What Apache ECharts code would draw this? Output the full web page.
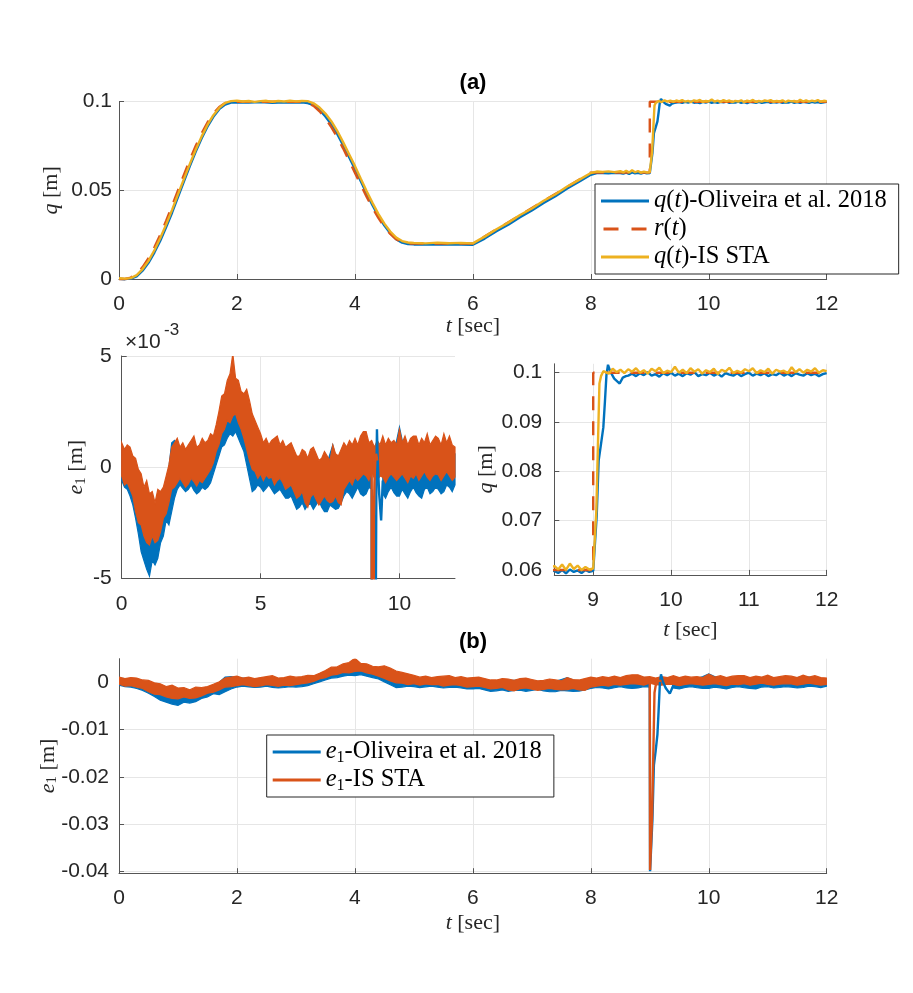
<!DOCTYPE html>
<html lang="en">
<head>
<meta charset="UTF-8">
<title>q(t) and e1 tracking</title>
<script src="https://cdn.jsdelivr.net/npm/echarts@6.0.0/dist/echarts.min.js"></script>
<style>
  html, body { margin: 0; padding: 0; background: #fff; }
  #container { width: 913px; height: 993px; }
</style>
</head>
<body>
<div id="container"></div>
<script type="text/javascript">
// reference r(t) [t, m]
var refR = [[0,0],[0.1,0],[0.2,0.0008],[0.3,0.003],[0.4,0.0067],[0.5,0.0117],[0.6,0.0179],[0.7,0.025],[0.8,0.0329],[0.9,0.0413],
  [1.0,0.05],[1.1,0.0587],[1.2,0.0671],[1.3,0.075],[1.4,0.0821],[1.5,0.0883],[1.6,0.0933],[1.7,0.097],[1.8,0.0992],[1.9,0.1],
  [3.1,0.1],[3.2,0.0994],[3.3,0.0976],[3.4,0.0946],[3.5,0.0906],[3.6,0.0857],[3.7,0.08],[3.8,0.0737],[3.9,0.0669],[4.0,0.06],
  [4.1,0.0531],[4.2,0.0463],[4.3,0.04],[4.4,0.0343],[4.5,0.0294],[4.6,0.0254],[4.7,0.0224],[4.8,0.0206],[4.9,0.02],
  [6.0,0.02],[8.0,0.06],[9.0,0.06],[9.0,0.1],[12,0.1]];

// q(t) Oliveira et al. 2018 [t, m]
var qOliHead = [[0,0.0001],[0.1,-0.0001],[0.2,0.0002],[0.3,0.0015],[0.4,0.0047],[0.5,0.0091],[0.6,0.0149],[0.7,0.0216],[0.8,0.0293],[0.9,0.0374],
  [1.0,0.0462],[1.1,0.0549],[1.2,0.0635],[1.3,0.0717],[1.4,0.0793],[1.5,0.0859],[1.6,0.0915],[1.7,0.0958],[1.8,0.0984],[1.9,0.0995],
  [2.0,0.0997],[2.2,0.0995],[2.4,0.0998],[2.6,0.0994],[2.8,0.0997],[3.0,0.0995],[3.1,0.0996],[3.2,0.0992],[3.3,0.0981],[3.4,0.0954],
  [3.5,0.0917],[3.6,0.0872],[3.7,0.0818],[3.8,0.0754],[3.9,0.0688],[4.0,0.0621],[4.1,0.0551],[4.2,0.0481],[4.3,0.0415],[4.4,0.0355],
  [4.5,0.0301],[4.6,0.0258],[4.7,0.0225],[4.8,0.0205],[4.9,0.0197],[5.0,0.0195],[5.2,0.0194],[5.4,0.0196],[5.6,0.0194],[5.8,0.0195],
  [6.0,0.0193],[6.2,0.0228],[6.4,0.0269],[6.6,0.0306],[6.8,0.0349],[7.0,0.0387],[7.2,0.0429],[7.4,0.0467],[7.6,0.0511],[7.8,0.0549],
  [8.0,0.0588],[8.1,0.0597],[8.2,0.0598],[8.3,0.0596],[8.4,0.0599],
  [8.5,0.0598],[8.55,0.0594],[8.6,0.06],[8.65,0.0593],[8.7,0.0601],[8.75,0.0596],[8.8,0.0599],[8.85,0.0594],[8.9,0.06],[8.95,0.0596],
  [9.0,0.0598],[9.02,0.0599],[9.045,0.071],[9.07,0.0822],[9.1,0.0855],[9.13,0.0889],[9.15,0.094],[9.17,0.0995],[9.19,0.1016],
  [9.22,0.1002],[9.27,0.0988],[9.34,0.0978],[9.38,0.099],[9.42,0.0993]];
var qOliTailStart = 9.45;
var qOliTail = [0.0994,0.0998,0.0993,0.0999,0.0995,0.1001,0.0994,0.0997,0.0992,0.0999,0.0995,
  0.1,0.0994,0.0998,0.0993,0.0999,0.0996,0.1001,0.0993,0.0997,0.0995,0.1,0.0994,0.0998,0.0992,0.0999,0.0996,0.0994,0.0999,0.0993,0.0997,
  0.1,0.0994,0.0998,0.0995,0.0999,0.0993,0.0997,0.0995,0.1,0.0994,0.0998,0.0993,0.0999,0.0996,0.0994,0.0999,0.0995,0.0998,0.0993,0.0997,
  0.0999];

// q(t) IS STA [t, m]
var qIsHead = [[0,0.0004],[0.1,0.0002],[0.2,0.0005],[0.3,0.0022],[0.4,0.0056],[0.5,0.0102],[0.6,0.0162],[0.7,0.0231],[0.8,0.0308],[0.9,0.039],
  [1.0,0.0477],[1.1,0.0563],[1.2,0.0648],[1.3,0.0729],[1.4,0.0803],[1.5,0.0869],[1.6,0.0924],[1.7,0.0965],[1.8,0.0993],[1.9,0.1003],
  [2.0,0.1006],[2.1,0.1001],[2.2,0.1004],[2.3,0.0999],[2.4,0.1003],[2.5,0.1005],[2.6,0.1],[2.7,0.1004],[2.8,0.1001],[2.9,0.1005],
  [3.0,0.1002],[3.1,0.1004],[3.2,0.1003],[3.3,0.0991],[3.4,0.0967],[3.5,0.0933],[3.6,0.089],[3.7,0.0836],[3.8,0.0772],[3.9,0.0705],
  [4.0,0.0638],[4.1,0.0566],[4.2,0.0495],[4.3,0.0428],[4.4,0.0366],[4.5,0.0312],[4.6,0.0268],[4.7,0.0234],[4.8,0.0214],[4.9,0.0206],
  [5.0,0.0204],[5.2,0.0201],[5.4,0.0205],[5.6,0.0202],[5.8,0.0204],[6.0,0.0201],[6.2,0.0239],[6.4,0.0281],[6.6,0.0318],[6.8,0.0361],
  [7.0,0.0398],[7.2,0.0441],[7.4,0.0478],[7.6,0.0522],[7.8,0.0559],[8.0,0.0598],[8.1,0.0606],[8.2,0.0604],[8.3,0.0607],[8.4,0.0603],
  [8.5,0.0608],[8.55,0.0601],[8.6,0.0611],[8.65,0.06],[8.7,0.0613],[8.75,0.0602],[8.8,0.0609],[8.85,0.06],[8.9,0.0606],[8.95,0.0601],
  [9.0,0.0603],[9.02,0.0602],[9.04,0.072],[9.06,0.085],[9.08,0.0978],[9.1,0.0993],[9.13,0.1003]];
var qIsTailStart = 9.15;
var qIsTail = [0.1004,0.0998,0.1008,0.1001,0.1006,0.0999,0.1007,0.1002,0.1009,0.1,0.1005,0.0998,0.1008,0.1003,0.101,0.0999,0.1004,
  0.1001,0.1012,0.1,0.1006,0.0999,0.1009,0.1002,0.1007,0.0998,0.1005,0.1001,0.1008,0.0997,0.1006,0.1002,0.101,0.0999,0.1004,0.1,0.1007,
  0.1003,0.1009,0.0999,0.1005,0.1001,0.1008,0.0998,0.1006,0.1002,0.1004,0.0999,0.1011,0.1001,0.1007,0.1,0.1006,0.1002,0.1009,0.1,0.1005,
  0.1003];
var tailStep = 0.05;

// e1 noise band edges, in 1e-3 m, one value every 0.1 s from 0 to 12 (one row per second)
var eStep = 0.1;
var eOliLo = [
  -0.6,-0.9,-1.0,-1.3,-1.7,-2.3,-3.0,-3.8,-4.2,-4.6,
  -4.9,-4.2,-4.4,-4.1,-3.4,-3.1,-2.4,-2.6,-2.0,-1.4,
  -1.0,-0.8,-0.95,-1.1,-1.0,-0.8,-1.05,-1.2,-1.1,-0.9,
  -1.0,-0.9,-0.7,-0.3,0.1,0.5,0.9,1.0,1.3,1.5,
  1.4,1.6,1.3,1.0,0.7,0.1,-0.5,-1.1,-1.0,-0.8,
  -0.9,-1.1,-0.95,-0.8,-1.0,-1.2,-1.1,-1.0,-1.2,-1.4,
  -1.4,-1.3,-1.6,-1.9,-1.8,-1.6,-1.9,-1.7,-1.65,-1.9,
  -1.7,-1.5,-1.8,-2.0,-2.0,-1.7,-1.8,-1.9,-1.85,-1.6,
  -1.3,-1.1,-1.2,-1.4,-1.15,-0.9,-1.2,-1.3,-1.2,-0.9,
  -1.0,null,null,null,-1.2,-1.4,-1.1,-0.9,-1.15,-1.3,
  -1.3,-1.0,-1.2,-1.4,-1.1,-0.9,-1.15,-1.3,-1.4,-1.0,
  -0.9,-1.2,-1.1,-0.9,-1.0,-1.2,-1.1,-0.8,-0.9,-1.1,
  -0.8];
var eOliHi = [
  0.9,0.8,0.7,0.4,0.1,-0.2,-0.6,-1.0,-1.5,-1.7,
  -1.9,-2.0,-2.2,-2.0,-1.7,-1.3,-0.9,0.0,1.1,1.2,
  1.0,0.9,0.8,0.7,0.7,0.9,1.0,0.8,0.7,0.8,
  0.8,0.9,1.0,1.1,1.3,1.6,2.0,2.3,2.5,2.6,
  2.7,2.6,2.5,2.4,2.2,1.9,1.5,1.3,1.1,1.0,
  0.9,0.8,0.8,0.8,0.8,0.9,0.9,0.8,0.8,0.7,
  0.7,0.6,0.5,0.3,0.2,0.3,0.4,0.4,0.5,0.4,
  0.3,0.2,0.1,0.1,0.2,0.6,1.0,0.5,0.2,0.4,
  0.7,0.7,0.8,0.8,0.9,0.9,1.0,1.1,1.2,1.0,
  0.8,null,null,null,1.0,0.9,0.9,0.8,0.8,1.2,
  1.8,1.2,1.0,0.9,0.9,0.9,1.0,0.9,0.9,1.0,
  1.1,0.9,0.8,0.8,0.9,1.0,1.2,1.1,1.0,0.8,
  0.6];
var eIsLo = [
  -0.4,-0.8,-0.7,-1.0,-1.3,-2.0,-2.5,-2.6,-3.1,-3.4,
  -3.5,-3.1,-3.4,-3.3,-2.9,-2.3,-2.1,-1.6,-1.0,-0.9,
  -0.7,-0.5,-0.7,-0.9,-0.75,-0.5,-0.65,-0.85,-0.6,-0.7,
  -0.5,-0.3,-0.1,0.2,0.7,1.0,1.5,1.7,2.1,2.0,
  2.3,2.4,2.0,1.7,1.3,0.8,0.3,-0.1,-0.2,-0.5,
  -0.3,-0.6,-0.35,-0.5,-0.45,-0.8,-0.6,-0.5,-0.7,-1.0,
  -0.9,-0.8,-1.1,-1.4,-1.3,-1.1,-1.6,-1.8,-1.35,-1.2,
  -1.45,-1.7,-1.5,-1.3,-1.5,-1.6,-1.55,-1.3,-1.6,-1.7,
  -1.0,-0.8,-0.6,-0.8,-0.45,-0.6,-0.45,-0.3,-0.4,-0.6,
  -0.2,-0.5,-0.6,-0.4,-0.45,-0.7,-0.45,-0.3,-0.45,-0.6,
  -0.45,-0.3,-0.5,-0.7,-0.4,-0.5,-0.3,-0.6,-0.4,-0.2,
  -0.45,-0.6,-0.4,-0.3,-0.35,-0.6,-0.4,-0.2,-0.4,-0.6,
  -0.45];
var eIsHi = [
  1.1,0.8,1.0,0.9,0.5,0.4,-0.1,-0.3,-0.9,-0.6,
  -1.2,-1.1,-1.6,-1.0,-1.1,-0.9,-0.4,0.1,0.9,1.1,
  1.3,0.9,1.1,0.8,1.0,1.2,1.4,0.9,1.0,1.3,
  1.1,1.2,1.5,1.4,1.9,2.5,3.2,3.3,3.9,4.2,
  5.1,4.0,3.9,3.4,3.3,3.5,3.0,2.4,2.1,1.8,
  1.5,1.1,1.3,1.0,1.2,1.3,1.4,1.0,1.2,0.9,
  1.0,1.1,0.8,0.5,0.5,0.8,0.7,0.4,0.8,0.9,
  0.6,0.3,0.4,0.7,0.5,0.3,1.0,0.6,0.5,0.8,
  1.1,0.9,1.2,1.0,1.3,1.0,1.4,1.6,1.6,1.1,
  1.2,0.9,1.2,1.0,1.4,1.0,1.3,1.1,1.2,1.0,
  1.7,1.1,1.4,1.0,1.3,1.4,1.4,1.0,1.3,1.1,
  1.5,1.0,1.2,1.4,1.3,1.0,1.5,1.1,1.4,1.0,
  0.9];

// e1 around the step at t = 9 s [t, 1e-3 m]
var eOliStep = [[9.0,-1.0],[9.005,-40],[9.02,-40],[9.045,-29],[9.07,-17.5],[9.1,-14.5],[9.13,-11],[9.15,-6],[9.17,-0.5],
  [9.19,1.7],[9.22,0.2],[9.27,-1.2],[9.34,-2.4],[9.38,-1.2],[9.4,-0.6]];
var eIsStep = [[9.0,0.4],[9.005,-39.7],[9.02,-39.8],[9.04,-28],[9.06,-15],[9.08,-2.2],[9.1,-0.7],[9.13,0.3],[9.16,0.6],[9.2,0.3]];

var nameOli = 'q(t)-Oliveira et al. 2018', nameRef = 'r(t)', nameIs = 'q(t)-IS STA';
var nameEOli = 'e1-Oliveira et al. 2018', nameEIs = 'e1-IS STA';
var legendText = {};
legendText[nameOli] = '{i|q}({i|t})-Oliveira et al. 2018';
legendText[nameRef] = '{i|r}({i|t})';
legendText[nameIs] = '{i|q}({i|t})-IS STA';
legendText[nameEOli] = '{i|e}{s|1}-Oliveira et al. 2018';
legendText[nameEIs] = '{i|e}{s|1}-IS STA';

function withTail(head, start, vals) {
  return head.concat(vals.map(function (v, i) { return [+(start + i * tailStep).toFixed(2), v]; }));
}
var qOli = withTail(qOliHead, qOliTailStart, qOliTail);
var qIs = withTail(qIsHead, qIsTailStart, qIsTail);
var eT = eIsLo.map(function (v, i) { return +(i * eStep).toFixed(1); });
function scaled(pts, k) { return pts.map(function (p) { return [p[0], p[1] * k]; }); }

var BLUE = '#0072BD', RED = '#D95319', YEL = '#EDB120';
var AX = '#555', GRIDC = '#e6e6e6', TXT = '#262626';
var serif = 'Liberation Serif', sans = 'Liberation Sans';
var ICON_SOLID = 'path://M0,0H48V3H0Z';
var ICON_DASH = 'path://M0,0H15V3H0Z M28,0H43V3H28Z';

var nameRich = {
  i: { fontFamily: serif, fontStyle: 'italic', fontSize: 22, color: TXT, lineHeight: 24 },
  s: { fontFamily: serif, fontSize: 15, color: TXT, lineHeight: 13, verticalAlign: 'bottom' }
};
var legRich = {
  i: { fontFamily: serif, fontStyle: 'italic', fontSize: 24.5, color: '#000', lineHeight: 28 },
  s: { fontFamily: serif, fontSize: 16, color: '#000', lineHeight: 16, verticalAlign: 'bottom' }
};

function axis(gi, min, max, extra) {
  var a = {
    type: 'value', gridIndex: gi, min: min, max: max,
    axisLine: { show: true, onZero: false, lineStyle: { color: AX, width: 1 } },
    axisTick: { show: true, inside: true, length: 5, lineStyle: { color: AX, width: 1 } },
    splitLine: { show: true, lineStyle: { color: GRIDC, width: 1 } },
    axisLabel: { color: TXT, fontSize: 21, fontFamily: sans, margin: 15 },
    nameLocation: 'middle', nameMoveOverlap: false,
    nameTextStyle: { fontFamily: serif, fontSize: 22, color: TXT, lineHeight: 24, rich: nameRich }
  };
  for (var k in extra) {
    var v = extra[k];
    a[k] = (v && typeof v === 'object' && !Array.isArray(v) && a[k]) ? Object.assign({}, a[k], v) : v;
  }
  return a;
}

function line(name, data, color, gi, dashed, clip) {
  return {
    type: 'line', name: name, xAxisIndex: gi, yAxisIndex: gi, data: data,
    symbol: 'none', showSymbol: false, clip: clip, animation: false,
    lineStyle: { color: color, width: 2.4, type: dashed ? [14, 11] : 'solid' },
    itemStyle: { color: color }
  };
}

// noise band between lower and upper edges, k converts 1e-3 m to axis units
function band(lo, hi, k, color, gi) {
  return {
    type: 'custom', xAxisIndex: gi, yAxisIndex: gi, clip: true, silent: true, animation: false,
    data: [[0, 0]],
    renderItem: function (params, api) {
      var kids = [], run = [];
      function flush() {
        if (run.length > 1) {
          var top = run.map(function (i) { return api.coord([eT[i], hi[i] * k]); });
          var bot = run.slice().reverse().map(function (i) { return api.coord([eT[i], lo[i] * k]); });
          kids.push({ type: 'polygon', shape: { points: top.concat(bot) },
            style: { fill: color, stroke: color, lineWidth: 1.2 } });
        }
        run = [];
      }
      for (var i = 0; i < eT.length; i++) {
        if (lo[i] == null || hi[i] == null) flush(); else run.push(i);
      }
      flush();
      return { type: 'group', children: kids };
    }
  };
}

function legend(items, left, top, padR) {
  return {
    data: items, orient: 'vertical', left: left, top: top,
    padding: [3, padR, 3, 6], itemGap: 0, itemWidth: 48, itemHeight: 3,
    backgroundColor: '#fff', borderColor: '#262626', borderWidth: 1, borderRadius: 0,
    selectedMode: false,
    formatter: function (n) { return legendText[n]; },
    textStyle: { fontFamily: serif, fontSize: 24.5, color: '#000', lineHeight: 28, rich: legRich }
  };
}

var dom = document.getElementById('container');
var myChart = echarts.init(dom);

var option = {
  animation: false,
  backgroundColor: '#fff',
  grid: [
    { left: 119, top: 101.7, width: 707.7, height: 177.3, containLabel: false, outerBoundsMode: 'none' },
    { left: 121.7, top: 356, width: 333.3, height: 222.3, containLabel: false, outerBoundsMode: 'none' },
    { left: 554.3, top: 363.8, width: 272.4, height: 211.1, containLabel: false, outerBoundsMode: 'none' },
    { left: 119, top: 658.7, width: 707.7, height: 214.5, containLabel: false, outerBoundsMode: 'none' }
  ],
  xAxis: [
    axis(0, 0, 12, { interval: 2, name: '{i|t} [sec]', nameGap: 35.5 }),
    axis(1, 0, 12, { interval: 5, axisLabel: { showMaxLabel: false }, splitLine: { showMaxLine: false } }),
    axis(2, 8.5, 12, { splitNumber: 3, minInterval: 1, maxInterval: 1, axisLabel: { showMinLabel: false },
      name: '{i|t} [sec]', nameGap: 43 }),
    axis(3, 0, 12, { interval: 2, name: '{i|t} [sec]', nameGap: 38 })
  ],
  yAxis: [
    axis(0, 0, 0.1, { interval: 0.05, axisLabel: { margin: 7 }, name: '{i|q} [m]', nameGap: 56, nameRotate: 90 }),
    axis(1, -5, 5, { interval: 5, axisLabel: { margin: 10 }, name: '{i|e}{s|1} [m]', nameGap: 33, nameRotate: 90 }),
    axis(2, 0.059, 0.1018, { minInterval: 0.01, maxInterval: 0.01,
      axisLabel: { margin: 12, showMinLabel: false, showMaxLabel: false }, splitLine: { showMaxLine: false },
      name: '{i|q} [m]', nameGap: 55.6, nameRotate: 90 }),
    axis(3, -0.0404, 0.005, { minInterval: 0.01, maxInterval: 0.01,
      axisLabel: { margin: 10, showMinLabel: false, showMaxLabel: false }, splitLine: { showMaxLine: false },
      name: '{i|e}{s|1} [m]', nameGap: 59, nameRotate: 90 })
  ],
  legend: [
    legend([{ name: nameOli, icon: ICON_SOLID }, { name: nameRef, icon: ICON_DASH }, { name: nameIs, icon: ICON_SOLID }], 595, 184, 12),
    legend([{ name: nameEOli, icon: ICON_SOLID }, { name: nameEIs, icon: ICON_SOLID }], 266.7, 735, 12)
  ],
  graphic: [
    { type: 'text', x: 473, y: 82.5, style: { text: '(a)', font: 'bold 22px "Liberation Sans"', fill: '#000', align: 'center', verticalAlign: 'middle' } },
    { type: 'text', x: 473, y: 642, style: { text: '(b)', font: 'bold 22px "Liberation Sans"', fill: '#000', align: 'center', verticalAlign: 'middle' } },
    { type: 'text', x: 125, y: 342, style: { text: '\u00d710', font: '21px "Liberation Sans"', fill: TXT, align: 'left', verticalAlign: 'middle' } },
    { type: 'text', x: 164, y: 330.5, style: { text: '-3', font: '17px "Liberation Sans"', fill: TXT, align: 'left', verticalAlign: 'middle' } }
  ],
  series: [
    line(nameOli, qOli, BLUE, 0, false, false),
    line(nameRef, refR, RED, 0, true, false),
    line(nameIs, qIs, YEL, 0, false, false),

    band(eOliLo, eOliHi, 1, BLUE, 1),
    line(nameEOli, eOliStep, BLUE, 1, false, true),
    band(eIsLo, eIsHi, 1, RED, 1),
    line(nameEIs, eIsStep, RED, 1, false, true),

    line(nameOli, qOli, BLUE, 2, false, true),
    line(nameRef, refR, RED, 2, true, true),
    line(nameIs, qIs, YEL, 2, false, true),

    band(eOliLo, eOliHi, 0.001, BLUE, 3),
    line(nameEOli, scaled(eOliStep, 0.001), BLUE, 3, false, true),
    band(eIsLo, eIsHi, 0.001, RED, 3),
    line(nameEIs, scaled(eIsStep, 0.001), RED, 3, false, true)
  ]
};

if (option && typeof option === 'object') {
  myChart.setOption(option, true);
}
</script>
</body>
</html>
